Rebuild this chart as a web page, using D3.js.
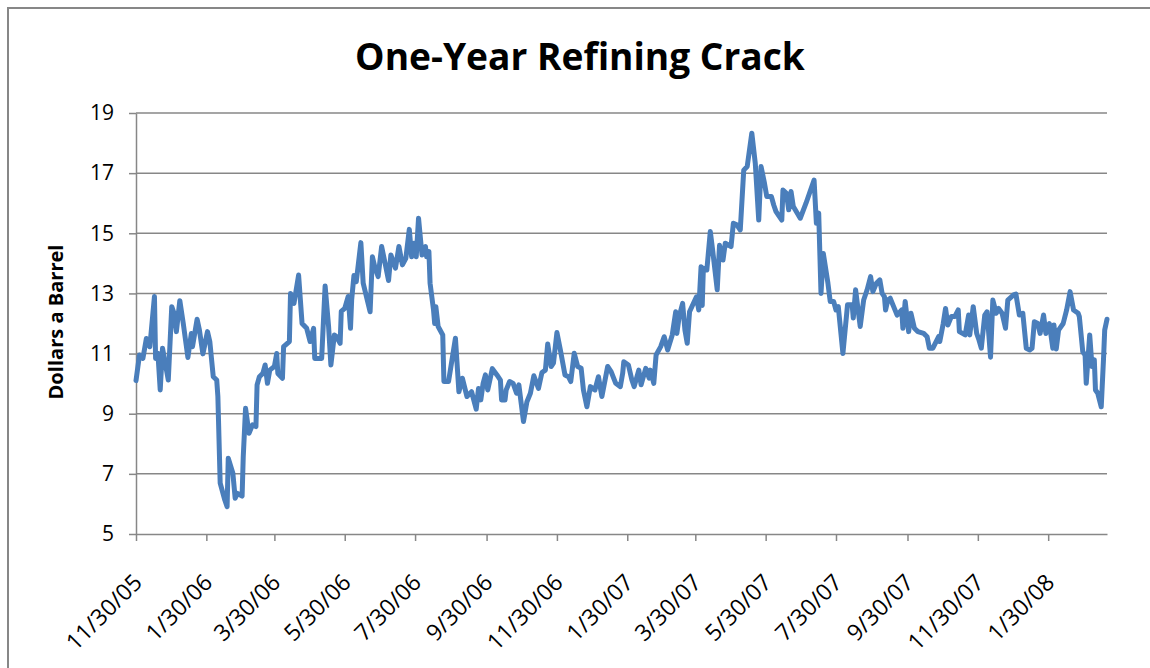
<!DOCTYPE html>
<html>
<head>
<meta charset="utf-8">
<title>One-Year Refining Crack</title>
<script src="https://cdnjs.cloudflare.com/ajax/libs/d3/7.8.5/d3.min.js"></script>
<style>
  body { margin: 0; background: #fff; }
  svg { display: block; }
</style>
</head>
<body>
<script>
var dates = [
  "2005-11-30","2005-12-03","2005-12-06","2005-12-09","2005-12-12","2005-12-16","2005-12-17","2005-12-19","2005-12-21","2005-12-23",
  "2005-12-28","2005-12-31","2006-01-02","2006-01-04","2006-01-07","2006-01-10","2006-01-14","2006-01-17","2006-01-18","2006-01-22",
  "2006-01-24","2006-01-27","2006-01-31","2006-02-02","2006-02-05","2006-02-08","2006-02-09","2006-02-11","2006-02-15","2006-02-17",
  "2006-02-18","2006-02-22","2006-02-24","2006-02-26","2006-03-02","2006-03-03","2006-03-05","2006-03-08","2006-03-11","2006-03-14",
  "2006-03-15","2006-03-17","2006-03-20","2006-03-22","2006-03-24","2006-03-26","2006-03-30","2006-04-01","2006-04-02","2006-04-06",
  "2006-04-07","2006-04-12","2006-04-13","2006-04-16","2006-04-20","2006-04-23","2006-04-27","2006-04-30","2006-05-03","2006-05-04",
  "2006-05-10","2006-05-13","2006-05-16","2006-05-18","2006-05-21","2006-05-23","2006-05-26","2006-05-27","2006-05-30","2006-06-02",
  "2006-06-04","2006-06-05","2006-06-07","2006-06-09","2006-06-13","2006-06-15","2006-06-21","2006-06-23","2006-06-25","2006-06-28",
  "2006-07-01","2006-07-04","2006-07-07","2006-07-09","2006-07-13","2006-07-16","2006-07-19","2006-07-22","2006-07-25","2006-07-27",
  "2006-07-29","2006-07-31","2006-08-02","2006-08-05","2006-08-08","2006-08-09","2006-08-11","2006-08-12","2006-08-15","2006-08-16",
  "2006-08-17","2006-08-19","2006-08-23","2006-08-24","2006-08-28","2006-09-03","2006-09-06","2006-09-09","2006-09-13","2006-09-17",
  "2006-09-21","2006-09-23","2006-09-25","2006-09-27","2006-09-29","2006-10-01","2006-10-05","2006-10-09","2006-10-12","2006-10-13",
  "2006-10-16","2006-10-17","2006-10-20","2006-10-23","2006-10-26","2006-10-28","2006-11-01","2006-11-04","2006-11-07","2006-11-10",
  "2006-11-14","2006-11-17","2006-11-20","2006-11-22","2006-11-25","2006-11-27","2006-11-30","2006-12-03","2006-12-07","2006-12-10",
  "2006-12-12","2006-12-15","2006-12-18","2006-12-21","2006-12-23","2006-12-26","2006-12-29","2007-01-02","2007-01-05","2007-01-08",
  "2007-01-13","2007-01-16","2007-01-20","2007-01-24","2007-01-26","2007-01-27","2007-01-31","2007-02-03","2007-02-05","2007-02-09",
  "2007-02-11","2007-02-15","2007-02-18","2007-02-19","2007-02-22","2007-02-24","2007-02-28","2007-03-03","2007-03-06","2007-03-10",
  "2007-03-13","2007-03-14","2007-03-16","2007-03-19","2007-03-21","2007-03-23","2007-03-25","2007-03-27","2007-03-31","2007-04-02",
  "2007-04-04","2007-04-05","2007-04-06","2007-04-09","2007-04-12","2007-04-14","2007-04-18","2007-04-20","2007-04-23","2007-04-25",
  "2007-04-30","2007-05-02","2007-05-05","2007-05-08","2007-05-11","2007-05-14","2007-05-18","2007-05-21","2007-05-24","2007-05-26",
  "2007-05-29","2007-05-31","2007-06-04","2007-06-06","2007-06-08","2007-06-13","2007-06-14","2007-06-17","2007-06-19","2007-06-21",
  "2007-06-23","2007-06-29","2007-07-04","2007-07-07","2007-07-11","2007-07-13","2007-07-15","2007-07-17","2007-07-19","2007-07-23",
  "2007-07-25","2007-07-28","2007-07-30","2007-08-01","2007-08-05","2007-08-09","2007-08-13","2007-08-14","2007-08-16","2007-08-20",
  "2007-08-23","2007-08-26","2007-08-29","2007-08-31","2007-09-03","2007-09-06","2007-09-08","2007-09-10","2007-09-11","2007-09-13",
  "2007-09-15","2007-09-18","2007-09-21","2007-09-25","2007-09-26","2007-09-28","2007-10-01","2007-10-03","2007-10-06","2007-10-09",
  "2007-10-14","2007-10-17","2007-10-19","2007-10-22","2007-10-27","2007-10-28","2007-10-31","2007-11-02","2007-11-04","2007-11-07",
  "2007-11-10","2007-11-13","2007-11-14","2007-11-19","2007-11-22","2007-11-23","2007-11-26","2007-11-29","2007-12-01","2007-12-03",
  "2007-12-06","2007-12-08","2007-12-11","2007-12-13","2007-12-16","2007-12-18","2007-12-21","2007-12-24","2007-12-26","2007-12-31",
  "2008-01-02","2008-01-05","2008-01-08","2008-01-11","2008-01-14","2008-01-16","2008-01-18","2008-01-21","2008-01-23","2008-01-26",
  "2008-01-28","2008-01-31","2008-02-03","2008-02-04","2008-02-06","2008-02-08","2008-02-12","2008-02-15","2008-02-18","2008-02-21",
  "2008-02-25","2008-02-26","2008-02-29","2008-03-02","2008-03-03","2008-03-06","2008-03-08","2008-03-10","2008-03-11","2008-03-13",
  "2008-03-16","2008-03-18","2008-03-19","2008-03-21"
];

// dollars a barrel, one value per date above
var crack = [
  10.1, 10.95, 10.84, 11.5, 11.23, 12.9, 10.84, 11.01, 9.79, 11.18,
  10.12, 12.56, 12.34, 11.73, 12.76, 12.0, 10.87, 11.67, 11.23, 12.14,
  11.78, 10.99, 11.73, 11.4, 10.23, 10.12, 9.57, 6.69, 6.13, 5.91,
  7.52, 7.02, 6.19, 6.35, 6.26, 7.57, 9.18, 8.35, 8.63, 8.57,
  9.96, 10.23, 10.34, 10.62, 10.01, 10.45, 10.57, 11.0, 10.34, 10.18,
  11.23, 11.4, 13.0, 12.67, 13.61, 12.0, 11.84, 11.4, 11.84, 10.84,
  10.84, 13.25, 11.9, 10.62, 11.62, 11.56, 11.34, 12.4, 12.5, 12.9,
  11.84, 12.78, 13.6, 13.39, 14.69, 13.34, 12.39, 14.22, 13.89, 13.56,
  14.56, 14.0, 13.43, 14.28, 13.84, 14.56, 13.95, 14.17, 15.13, 14.22,
  14.67, 14.22, 15.5, 14.28, 14.56, 14.22, 14.39, 13.34, 12.45, 12.0,
  12.56, 11.9, 11.62, 10.07, 10.07, 11.51, 9.73, 10.18, 9.57, 9.73,
  9.15, 9.84, 9.46, 10.01, 10.29, 9.79, 10.5, 10.29, 10.12, 9.46,
  9.46, 9.79, 10.07, 10.01, 9.68, 9.96, 8.74, 9.4, 9.68, 10.26,
  9.84, 10.37, 10.45, 11.32, 10.57, 10.68, 11.7, 11.12, 10.29, 10.23,
  10.07, 11.01, 10.57, 10.51, 9.79, 9.23, 9.9, 9.79, 10.23, 9.57,
  10.57, 10.4, 10.01, 9.9, 10.34, 10.73, 10.62, 10.12, 9.9, 10.45,
  9.96, 10.51, 10.18, 10.45, 10.01, 10.95, 11.23, 11.56, 11.12, 11.62,
  12.39, 11.67, 12.23, 12.67, 11.78, 11.34, 12.39, 12.56, 12.89, 12.45,
  13.89, 12.6, 13.84, 13.78, 15.06, 14.45, 13.12, 14.6, 14.11, 14.67,
  14.56, 15.33, 15.28, 15.11, 17.1, 17.22, 18.33, 17.33, 15.44, 17.22,
  16.66, 16.22, 16.22, 15.94, 15.72, 15.44, 16.44, 16.33, 15.78, 16.39,
  15.89, 15.5, 16.0, 16.33, 16.77, 15.33, 15.67, 13.0, 14.33, 13.34,
  12.73, 12.73, 12.45, 12.56, 11.0, 12.62, 12.62, 12.18, 13.12, 11.9,
  12.78, 13.12, 13.56, 13.06, 13.34, 13.45, 13.0, 12.89, 12.45, 12.79,
  12.84, 12.56, 12.28, 12.45, 11.84, 12.73, 11.73, 12.34, 11.84, 11.73,
  11.67, 11.56, 11.18, 11.18, 11.56, 11.4, 12.0, 12.5, 11.95, 12.23,
  12.23, 12.45, 11.73, 11.62, 12.28, 11.62, 12.56, 11.67, 11.45, 11.18,
  12.28, 12.39, 10.88, 12.78, 12.34, 12.5, 12.34, 11.84, 12.78, 12.95,
  12.98, 12.28, 12.34, 11.18, 11.12, 11.18, 12.06, 12.0, 11.67, 12.28,
  11.67, 12.0, 11.18, 11.95, 11.15, 11.78, 12.0, 12.45, 13.06, 12.45,
  12.34, 12.23, 11.06, 10.95, 10.01, 11.62, 10.57, 10.79, 9.79, 9.68,
  9.23, 10.84, 11.78, 12.14
];

var yTicks = [5, 7, 9, 11, 13, 15, 17, 19];
var xTickLabels = ["11/30/05", "1/30/06", "3/30/06", "5/30/06", "7/30/06", "9/30/06", "11/30/06",
                   "1/30/07", "3/30/07", "5/30/07", "7/30/07", "9/30/07", "11/30/07", "1/30/08"];
var chartTitle = "One-Year Refining Crack";
var yTitle = "Dollars a Barrel";

var width = 1150;
var height = 668;
var plotLeft = 136, plotRight = 1107, plotTop = 113, plotBottom = 534;
var font = "'Open Sans', 'Noto Sans', sans-serif";
var gray = "#878787";

var parseDate = d3.timeParse("%Y-%m-%d");
var parseTick = d3.timeParse("%m/%d/%y");

var data = dates.map(function (d, i) { return { date: parseDate(d), value: crack[i] }; });
var tickDates = xTickLabels.map(function (d) { return parseTick(d); });

var x = d3.scaleTime()
  .domain([data[0].date, data[data.length - 1].date])
  .range([plotLeft, plotRight]);

var y = d3.scaleLinear()
  .domain([5, 19])
  .range([plotBottom, plotTop]);

var svg = d3.select("body").append("svg")
  .attr("width", width)
  .attr("height", height);

svg.append("rect")
  .attr("width", width).attr("height", height)
  .attr("fill", "#fff");

// chart frame (runs off the right and bottom edge like the screenshot)
svg.append("rect")
  .attr("x", 8).attr("y", 8)
  .attr("width", width + 20).attr("height", height + 20)
  .attr("fill", "none")
  .attr("stroke", gray).attr("stroke-width", 2);

// horizontal gridlines
svg.append("g").selectAll("line")
  .data(yTicks.slice(1))
  .enter().append("line")
  .attr("x1", plotLeft).attr("x2", plotRight)
  .attr("y1", function (d) { return y(d); })
  .attr("y2", function (d) { return y(d); })
  .attr("stroke", gray).attr("stroke-width", 1.5);

// y axis
var yAxis = svg.append("g")
  .attr("transform", "translate(" + plotLeft + ",0)")
  .call(d3.axisLeft(y).tickValues(yTicks).tickSize(7).tickSizeOuter(0).tickPadding(15));

yAxis.attr("font-size", null).attr("font-family", null);
yAxis.select(".domain").attr("stroke", gray).attr("stroke-width", 1.5);
yAxis.selectAll(".tick line").attr("stroke", gray).attr("stroke-width", 1.5);
yAxis.selectAll(".tick text")
  .attr("font-family", font).attr("font-size", 21).attr("fill", "#000");

// x axis
var xAxis = svg.append("g")
  .attr("transform", "translate(0," + plotBottom + ")")
  .call(d3.axisBottom(x).tickValues(tickDates).tickSize(7).tickSizeOuter(0)
    .tickFormat(function (d, i) { return xTickLabels[i]; }));

xAxis.attr("font-size", null).attr("font-family", null);
xAxis.select(".domain").attr("stroke", gray).attr("stroke-width", 1.5);
xAxis.selectAll(".tick line").attr("stroke", gray).attr("stroke-width", 1.5);
xAxis.selectAll(".tick text")
  .attr("font-family", font).attr("font-size", 23).attr("fill", "#000")
  .attr("text-anchor", "end")
  .attr("x", 0).attr("y", 0).attr("dy", 0)
  .attr("transform", "translate(7,50) rotate(-45)");

// the series
var line = d3.line()
  .x(function (d) { return x(d.date); })
  .y(function (d) { return y(d.value); });

svg.append("path")
  .datum(data)
  .attr("d", line)
  .attr("fill", "none")
  .attr("stroke", "#4a7ebb")
  .attr("stroke-width", 5)
  .attr("stroke-linejoin", "round")
  .attr("stroke-linecap", "round");

// title, sized to the width it has in the original
var titleText = svg.append("text")
  .attr("x", 580).attr("y", 70)
  .attr("text-anchor", "middle")
  .attr("font-family", font).attr("font-weight", "bold")
  .attr("font-size", 36)
  .text(chartTitle);
titleText.attr("font-size", 36 * 450 / titleText.node().getComputedTextLength());

var yTitleText = svg.append("text")
  .attr("transform", "translate(63,322) rotate(-90)")
  .attr("text-anchor", "middle")
  .attr("font-family", font).attr("font-weight", "bold")
  .attr("font-size", 18)
  .text(yTitle);
yTitleText.attr("font-size", 18 * 155 / yTitleText.node().getComputedTextLength());
</script>
</body>
</html>
